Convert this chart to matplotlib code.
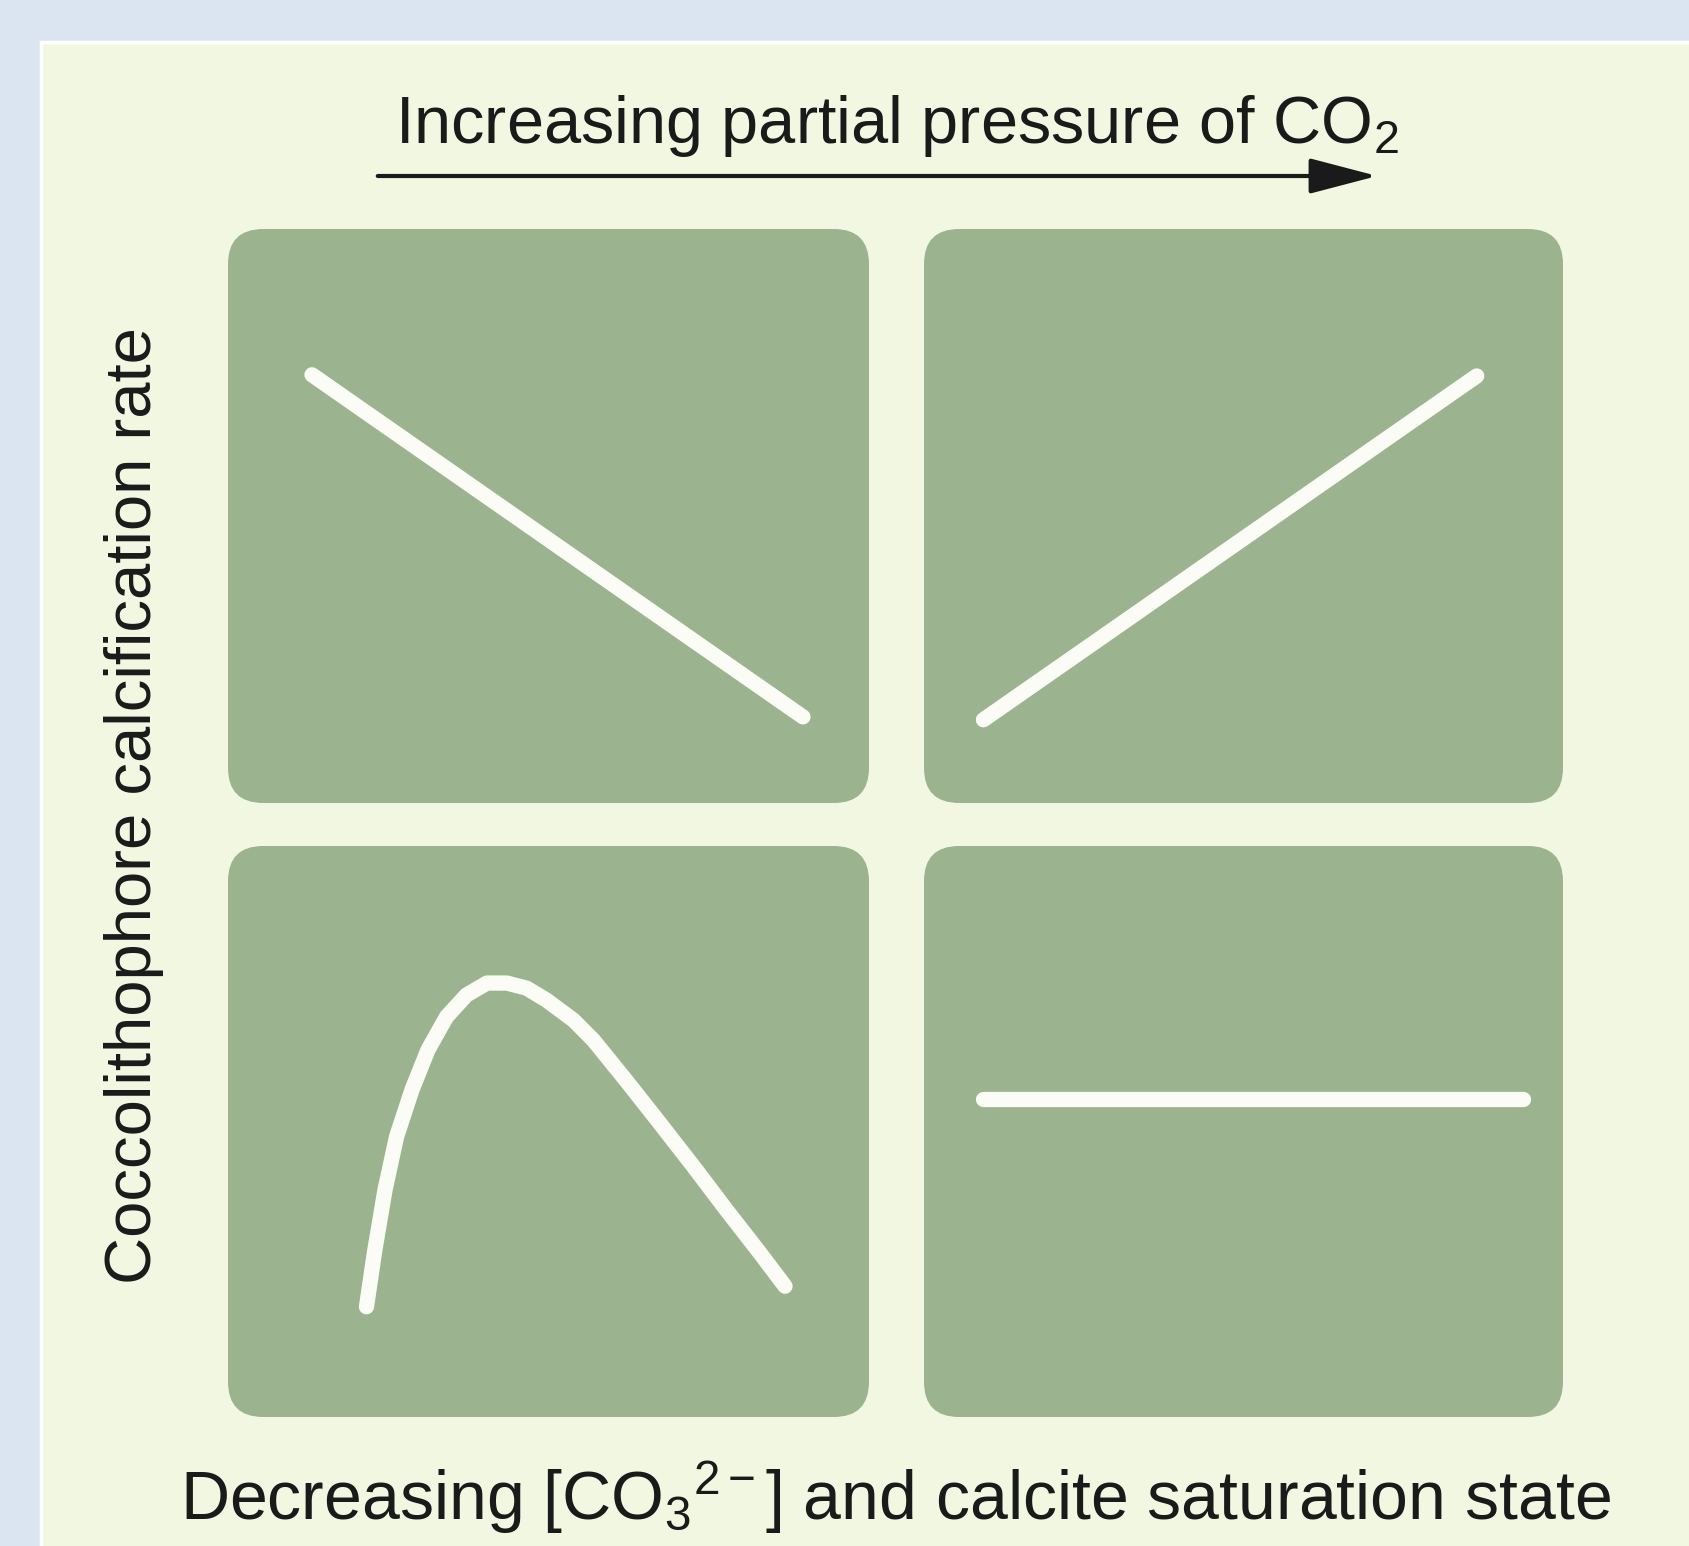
"""Coccolithophore calcification response schematic (four panels)."""

import matplotlib
matplotlib.use("Agg")
import matplotlib.pyplot as plt
from matplotlib.patches import FancyBboxPatch, Rectangle, FancyArrowPatch

# panel-relative curve data (x, y in 0..1 of each panel)
tl_x = [0.131, 0.897]
tl_y = [0.746, 0.150]

tr_x = [0.093, 0.865]
tr_y = [0.145, 0.744]

bl_x = [0.216, 0.229, 0.245, 0.263, 0.287, 0.312, 0.341, 0.372, 0.404, 0.435,
        0.466, 0.497, 0.539, 0.570, 0.622, 0.674, 0.726, 0.778, 0.830, 0.869]
bl_y = [0.193, 0.292, 0.398, 0.491, 0.573, 0.643, 0.701, 0.739, 0.760, 0.760,
        0.751, 0.730, 0.695, 0.660, 0.588, 0.514, 0.439, 0.362, 0.287, 0.229]

br_x = [0.093, 0.938]
br_y = [0.557, 0.557]

top_label = r"Increasing partial pressure of CO$_2$"
bottom_label = r"Decreasing [CO$_3$$^{2-}$] and calcite saturation state"
left_label = "Coccolithophore calcification rate"

BLUE_BG = "#dbe5f1"
CREAM = "#f2f7e2"
PANEL = "#9bb38f"
LINE = "#fbfcf6"
TEXT = "#1a1a1a"

W, H = 1690, 1546


def add_panel(fig, left, top, right, bottom, xs, ys):
    """Panel given in pixel coords (top-left origin)."""
    ax = fig.add_axes([left / W, 1 - bottom / H, (right - left) / W, (bottom - top) / H])
    ax.set_xlim(0, 1)
    ax.set_ylim(0, 1)
    ax.axis("off")
    ax.set_zorder(2)
    aspect = (right - left) / (bottom - top)
    box = FancyBboxPatch((0, 0), 1, 1, boxstyle="round,pad=0,rounding_size=0.055",
                         mutation_aspect=aspect, transform=ax.transAxes,
                         facecolor=PANEL, edgecolor="none", clip_on=False, zorder=0)
    ax.add_patch(box)
    ax.plot(xs, ys, color=LINE, lw=11, solid_capstyle="round",
            solid_joinstyle="round", zorder=2)
    return ax


def main():
    plt.rcParams["font.family"] = ["Liberation Sans", "DejaVu Sans"]
    plt.rcParams["mathtext.fontset"] = "custom"
    plt.rcParams["mathtext.rm"] = "Liberation Sans"
    plt.rcParams["mathtext.it"] = "Liberation Sans"

    fig = plt.figure(figsize=(W / 100, H / 100), dpi=100)
    fig.patch.set_facecolor(BLUE_BG)

    # cream card with a thin white rim
    card = Rectangle((41 / W, -0.01), 1.0, 1 - 42 / H + 0.01,
                     transform=fig.transFigure, facecolor=CREAM,
                     edgecolor="white", lw=2.5, zorder=-1)
    fig.patches.append(card)

    add_panel(fig, 228, 229, 869, 803, tl_x, tl_y)
    add_panel(fig, 924, 229, 1563, 803, tr_x, tr_y)
    add_panel(fig, 228, 846, 869, 1417, bl_x, bl_y)
    add_panel(fig, 924, 846, 1563, 1417, br_x, br_y)

    fig.text(0.531, 1 - 143 / H, top_label, ha="center", va="baseline",
             fontsize=48, color=TEXT)
    arrow = FancyArrowPatch((375 / W, 1 - 176 / H), (1380 / W, 1 - 176 / H),
                            transform=fig.transFigure,
                            arrowstyle="-|>,head_length=2.1,head_width=0.55",
                            mutation_scale=20, lw=3, color=TEXT, zorder=3)
    fig.patches.append(arrow)

    fig.text(0.530, 1 - 1520 / H, bottom_label, ha="center", va="baseline",
             fontsize=49, color=TEXT)
    fig.text(151 / W, 1 - 806 / H, left_label, ha="center", va="baseline",
             rotation=90, rotation_mode="anchor", fontsize=47, color=TEXT)

    fig.savefig("out.png", dpi=100, facecolor=fig.get_facecolor())


if __name__ == "__main__":
    main()
